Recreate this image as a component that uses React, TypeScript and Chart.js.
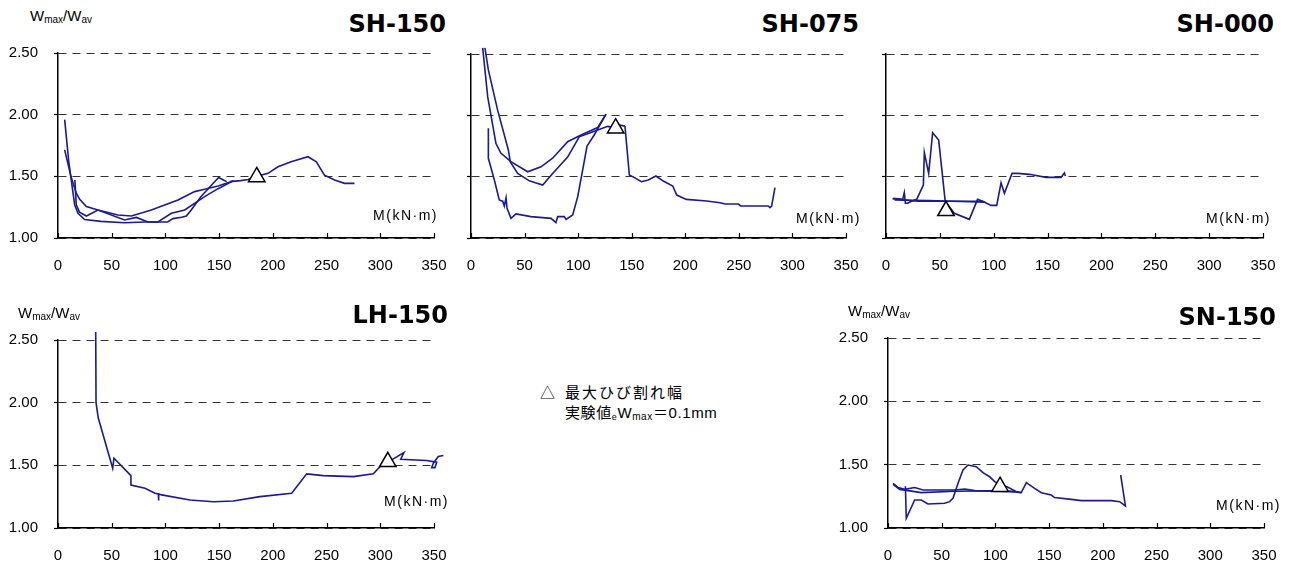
import React, { useEffect, useRef } from "react";
import { Chart, registerables } from "chart.js";
Chart.register(...registerables);

// ---- axes ----
const X_MIN = 0;
const X_MAX = 350;
const X_STEP = 50;
const Y_MIN = 1.0;
const Y_MAX = 2.5;
const Y_STEP = 0.5;

// ---- SH-150 ----
const SH150_A_M = [6.2, 10, 15.5, 18.6, 24.8, 40, 62, 80.7, 102, 107, 115, 119.5, 124, 133, 143, 149.5, 154, 157];
const SH150_A_W = [1.96, 1.62, 1.27, 1.2, 1.15, 1.135, 1.124, 1.13, 1.13, 1.157, 1.168, 1.178, 1.227, 1.335, 1.43, 1.49, 1.47, 1.457];
const SH150_B_M = [6.2, 12, 17, 20.2, 26.4, 37.2, 55.8, 68.3, 86.9, 111.7, 127.2, 136.5, 149, 163];
const SH150_B_W = [1.714, 1.5, 1.363, 1.313, 1.255, 1.227, 1.187, 1.178, 1.227, 1.308, 1.376, 1.395, 1.422, 1.462];
const SH150_C_M = [15.7, 17, 20, 26.4, 37.2, 62, 72.9, 83.8, 93, 105.5, 117.9, 136.5, 149, 163.5];
const SH150_C_W = [1.47, 1.27, 1.21, 1.178, 1.227, 1.146, 1.167, 1.13, 1.13, 1.2, 1.227, 1.335, 1.4, 1.465];
const SH150_D_M = [160, 170, 177, 185, 195.5, 204.8, 217, 232.7, 240.5, 248, 257.5, 266.8, 276];
const SH150_D_W = [1.457, 1.465, 1.475, 1.5, 1.524, 1.578, 1.618, 1.659, 1.618, 1.51, 1.47, 1.443, 1.443];
const SH150_TRI = [185, 1.495];

// ---- SH-075 ----
const SH075_A_M = [10.9, 15.6, 23.3, 28, 37.3, 52.9, 65.3, 76.2, 90.2, 102.7, 118.2, 126];
const SH075_A_W = [2.55, 2.15, 1.77, 1.69, 1.622, 1.54, 1.58, 1.65, 1.785, 1.84, 1.9, 2.01];
const SH075_B_M = [13, 16.2, 24.9, 34.8, 36.7, 43.6, 54.4, 66.9, 76.2, 90.2, 101, 112, 127.6, 133.8, 139, 143.7];
const SH075_B_W = [2.55, 2.37, 2.04, 1.72, 1.62, 1.526, 1.466, 1.432, 1.526, 1.66, 1.825, 1.86, 1.91, 1.9, 1.92, 1.912];
const SH075_C_M = [16.2, 16.2, 21.8, 26.4, 29.6, 31.1, 32.7, 33.6, 37.3, 42, 56, 74.7, 79.3, 80.9, 87.1, 88.7, 94.9, 99.6, 104.2, 108.3, 115, 126];
const SH075_C_W = [1.894, 1.65, 1.473, 1.31, 1.3, 1.26, 1.327, 1.245, 1.16, 1.196, 1.174, 1.16, 1.125, 1.174, 1.174, 1.152, 1.188, 1.337, 1.554, 1.75, 1.84, 2.01];
const SH075_D_M = [143.7, 147.8, 153, 159, 165.5, 172.6, 179.5, 188.3, 192, 201, 220, 232.4, 237, 249.5, 251.7, 277.5, 279, 280.6, 283.7];
const SH075_D_W = [1.912, 1.513, 1.49, 1.459, 1.473, 1.505, 1.464, 1.424, 1.35, 1.315, 1.302, 1.288, 1.277, 1.277, 1.261, 1.261, 1.247, 1.26, 1.41];
const SH075_TRI = [135, 1.895];

// ---- SH-000 ----
const SH000_A_M = [6.8, 15.5, 17, 18, 20, 23.2, 28.5, 34.7, 35.6, 39.6, 43.3, 48.9, 55, 63.4, 77.4, 85, 89.8];
const SH000_A_W = [1.323, 1.315, 1.37, 1.283, 1.283, 1.297, 1.315, 1.432, 1.696, 1.527, 1.858, 1.798, 1.297, 1.201, 1.152, 1.315, 1.3];
const SH000_B_M = [6, 30, 60, 90];
const SH000_B_W = [1.32, 1.3, 1.3, 1.3];
const SH000_C_M = [8, 40, 70, 92];
const SH000_C_W = [1.31, 1.305, 1.298, 1.292];
const SH000_D_M = [89.8, 97.5, 102.8, 106.8, 109.9, 117, 122.3, 133, 148.6, 162.5, 165.6, 166.5];
const SH000_D_W = [1.3, 1.266, 1.266, 1.45, 1.364, 1.527, 1.527, 1.519, 1.494, 1.494, 1.53, 1.505];
const SH000_TRI = [55.7, 1.222];

// ---- LH-150 ----
const LH150_A_M = [35.1, 35.4, 37.5, 50.9, 52.1, 67.9, 67.9, 81, 90.3, 93.4, 93.4, 94, 96.5, 122.9, 144.6, 163.2, 188, 217.5, 231.5, 247, 275, 293.5, 301.3, 310.6, 322, 319, 343, 352.5, 350.9, 347.8, 349.4, 354, 358.7];
const LH150_A_W = [2.58, 2.0, 1.877, 1.477, 1.557, 1.418, 1.343, 1.317, 1.277, 1.272, 1.22, 1.272, 1.264, 1.224, 1.21, 1.216, 1.25, 1.277, 1.432, 1.418, 1.41, 1.432, 1.504, 1.544, 1.602, 1.549, 1.538, 1.525, 1.482, 1.482, 1.517, 1.57, 1.578];
const LH150_TRI = [307, 1.528];

// ---- SN-150 ----
const SN150_A_M = [4.7, 9.3, 15.5, 24.8, 32.6, 62, 71.4, 80.7, 100, 118];
const SN150_A_W = [1.353, 1.32, 1.305, 1.32, 1.3, 1.3, 1.308, 1.295, 1.29, 1.287];
const SN150_B_M = [4.7, 10.9, 31, 62, 108, 124];
const SN150_B_W = [1.345, 1.305, 1.279, 1.29, 1.295, 1.279];
const SN150_C_M = [16.2, 17, 24.8, 31, 37.2, 52.7, 57.4, 60.5, 65.2, 69.8, 74.5, 82.2, 88.4, 94.6, 99.3, 105.5, 111.7, 119.5];
const SN150_C_W = [1.33, 1.076, 1.221, 1.221, 1.19, 1.195, 1.208, 1.234, 1.353, 1.458, 1.497, 1.484, 1.437, 1.405, 1.366, 1.34, 1.321, 1.287];
const SN150_D_M = [119.5, 124, 128.8, 136.5, 142.7, 152, 155, 170.6, 180, 207.9, 215.6, 221, 216.6];
const SN150_D_W = [1.287, 1.279, 1.358, 1.313, 1.279, 1.26, 1.24, 1.226, 1.216, 1.216, 1.208, 1.174, 1.418];
const SN150_TRI = [104.3, 1.326];

const LINE_COLOR = "#1a1a96";
const TICK_FONT = '"Liberation Sans", Arial, sans-serif';
const PADL = 50;
const PADT = 14;
const PADR = 22;
const XAXIS_H = 40;

// inward tick marks on the x axis (as in the original)
const innerXTicks = {
  id: "innerXTicks",
  afterDraw(chart: any) {
    const sx = chart.scales.x;
    const { ctx, chartArea } = chart;
    ctx.save();
    ctx.strokeStyle = "#000";
    ctx.lineWidth = 1.2;
    sx.ticks.forEach((t: any) => {
      const px = Math.round(sx.getPixelForValue(t.value)) + 0.5;
      ctx.beginPath();
      ctx.moveTo(px, chartArea.bottom);
      ctx.lineTo(px, chartArea.bottom - 5);
      ctx.stroke();
    });
    ctx.restore();
  },
};

type Series = { m: number[]; w: number[] };
type PanelProps = {
  L: number; R: number; T: number; B: number;
  showY: boolean; series: Series[]; tri: number[];
};

function Panel({ L, R, T, B, showY, series, tri }: PanelProps) {
  const ref = useRef<HTMLCanvasElement>(null);
  const width = R - L + PADL + PADR;
  const height = B - T + PADT + XAXIS_H;
  useEffect(() => {
    const datasets: any[] = [
      {
        data: [{ x: tri[0], y: tri[1] }],
        showLine: false,
        pointStyle: "triangle",
        pointRadius: 9.5,
        backgroundColor: "#ffffff",
        borderColor: "#000000",
        borderWidth: 1.5,
        order: 0,
        clip: false,
      },
      ...series.map((s) => ({
        data: s.m.map((x, i) => ({ x, y: s.w[i] })),
        showLine: true,
        pointRadius: 0,
        borderColor: LINE_COLOR,
        borderWidth: 1.6,
        order: 1,
        tension: 0,
        clip: { left: 2, top: 8, right: 12, bottom: 2 },
      })),
    ];
    const chart = new Chart(ref.current as HTMLCanvasElement, {
      type: "scatter",
      data: { datasets },
      plugins: [innerXTicks],
      options: {
        animation: false,
        responsive: false,
        events: [],
        layout: { padding: { top: PADT, right: PADR, left: 0, bottom: 0 } },
        plugins: {
          legend: { display: false },
          tooltip: { enabled: false },
          title: { display: false },
        },
        scales: {
          x: {
            type: "linear",
            min: X_MIN,
            max: X_MAX,
            ticks: {
              stepSize: X_STEP,
              color: "#000",
              font: { family: TICK_FONT, size: 15 },
              padding: 19,
              maxRotation: 0,
              autoSkip: false,
            },
            grid: { drawOnChartArea: false, drawTicks: false },
            border: { display: true, color: "#000", width: 1.5 },
            afterFit: (s: any) => {
              s.height = XAXIS_H;
              s.paddingLeft = 0;
              s.paddingRight = 0;
            },
          },
          y: {
            type: "linear",
            min: Y_MIN,
            max: Y_MAX,
            ticks: {
              stepSize: Y_STEP,
              display: showY,
              color: "#000",
              font: { family: TICK_FONT, size: 15 },
              padding: 16,
              callback: (v: any) => Number(v).toFixed(2),
            },
            grid: { color: "#333", lineWidth: 1, tickLength: 4, tickColor: "#000", tickWidth: 1.2, tickBorderDash: [] },
            border: { display: true, color: "#000", width: 1.5, dash: [8, 6] },
            afterFit: (s: any) => {
              s.width = PADL;
              s.paddingTop = 0;
              s.paddingBottom = 0;
            },
          },
        },
      } as any,
    });
    return () => chart.destroy();
  }, []);
  return (
    <canvas
      ref={ref}
      width={width}
      height={height}
      style={{ position: "absolute", left: L - PADL, top: T - PADT, width, height }}
    />
  );
}

const titleStyle = (right: number, top: number): React.CSSProperties => ({
  position: "absolute",
  right: 1289 - right,
  top,
  fontFamily: '"DejaVu Sans", sans-serif',
  fontWeight: "bold",
  fontSize: 24,
  lineHeight: "24px",
  color: "#000",
  whiteSpace: "nowrap",
});

const mStyle = (right: number, top: number): React.CSSProperties => ({
  position: "absolute",
  right: 1289 - right,
  top,
  fontFamily: TICK_FONT,
  fontSize: 14,
  lineHeight: "14px",
  letterSpacing: "1.5px",
  color: "#000",
  whiteSpace: "nowrap",
});

const subStyle: React.CSSProperties = { fontSize: 10, verticalAlign: "-2px" };

function WLabel({ left, top }: { left: number; top: number }) {
  return (
    <div
      style={{
        position: "absolute",
        left,
        top,
        fontFamily: TICK_FONT,
        fontSize: 15,
        lineHeight: "15px",
        color: "#000",
        whiteSpace: "nowrap",
      }}
    >
      W<span style={subStyle}>max</span>/W<span style={subStyle}>av</span>
    </div>
  );
}

export default function App() {
  return (
    <div style={{ position: "absolute", left: 0, top: 0, width: 1289, height: 565, background: "#fff", overflow: "hidden" }}>
      <Panel
        L={58} R={434} T={53} B={238} showY={true}
        series={[
          { m: SH150_A_M, w: SH150_A_W },
          { m: SH150_B_M, w: SH150_B_W },
          { m: SH150_C_M, w: SH150_C_W },
          { m: SH150_D_M, w: SH150_D_W },
        ]}
        tri={SH150_TRI}
      />
      <Panel
        L={471} R={846} T={54} B={238} showY={false}
        series={[
          { m: SH075_A_M, w: SH075_A_W },
          { m: SH075_B_M, w: SH075_B_W },
          { m: SH075_C_M, w: SH075_C_W },
          { m: SH075_D_M, w: SH075_D_W },
        ]}
        tri={SH075_TRI}
      />
      <Panel
        L={886} R={1263} T={54} B={238} showY={false}
        series={[
          { m: SH000_A_M, w: SH000_A_W },
          { m: SH000_B_M, w: SH000_B_W },
          { m: SH000_C_M, w: SH000_C_W },
          { m: SH000_D_M, w: SH000_D_W },
        ]}
        tri={SH000_TRI}
      />
      <Panel
        L={58} R={434} T={340} B={528} showY={true}
        series={[{ m: LH150_A_M, w: LH150_A_W }]}
        tri={LH150_TRI}
      />
      <Panel
        L={888} R={1264} T={338} B={528} showY={true}
        series={[
          { m: SN150_A_M, w: SN150_A_W },
          { m: SN150_B_M, w: SN150_B_W },
          { m: SN150_C_M, w: SN150_C_W },
          { m: SN150_D_M, w: SN150_D_W },
        ]}
        tri={SN150_TRI}
      />

      <div style={titleStyle(446, 12)}>SH-150</div>
      <div style={titleStyle(859, 12)}>SH-075</div>
      <div style={titleStyle(1274, 12)}>SH-000</div>
      <div style={titleStyle(448, 303)}>LH-150</div>
      <div style={titleStyle(1276, 305)}>SN-150</div>

      <WLabel left={30} top={8} />
      <WLabel left={18} top={305} />
      <WLabel left={848} top={303} />

      <div style={mStyle(438, 208)}>M(kN·m)</div>
      <div style={mStyle(861, 211)}>M(kN·m)</div>
      <div style={mStyle(1271, 211)}>M(kN·m)</div>
      <div style={mStyle(449, 494)}>M(kN·m)</div>
      <div style={mStyle(1281, 498)}>M(kN·m)</div>

      <div
        style={{
          position: "absolute",
          left: 540,
          top: 383,
          fontFamily: '"Liberation Sans", "Noto Sans CJK JP", sans-serif',
          fontSize: 15,
          lineHeight: "20px",
          color: "#000",
          whiteSpace: "nowrap",
        }}
      >
        <div>
          <span style={{ display: "inline-block", width: 25 }}>△</span>
          <span style={{ letterSpacing: "2px" }}>最大ひび割れ幅</span>
        </div>
        <div style={{ paddingLeft: 25, letterSpacing: "0.6px" }}>
          実験値<span style={{ fontSize: 9, verticalAlign: "-2px" }}>e</span>W
          <span style={{ fontSize: 10, verticalAlign: "-2px" }}>max</span>＝0.1mm
        </div>
      </div>
    </div>
  );
}
